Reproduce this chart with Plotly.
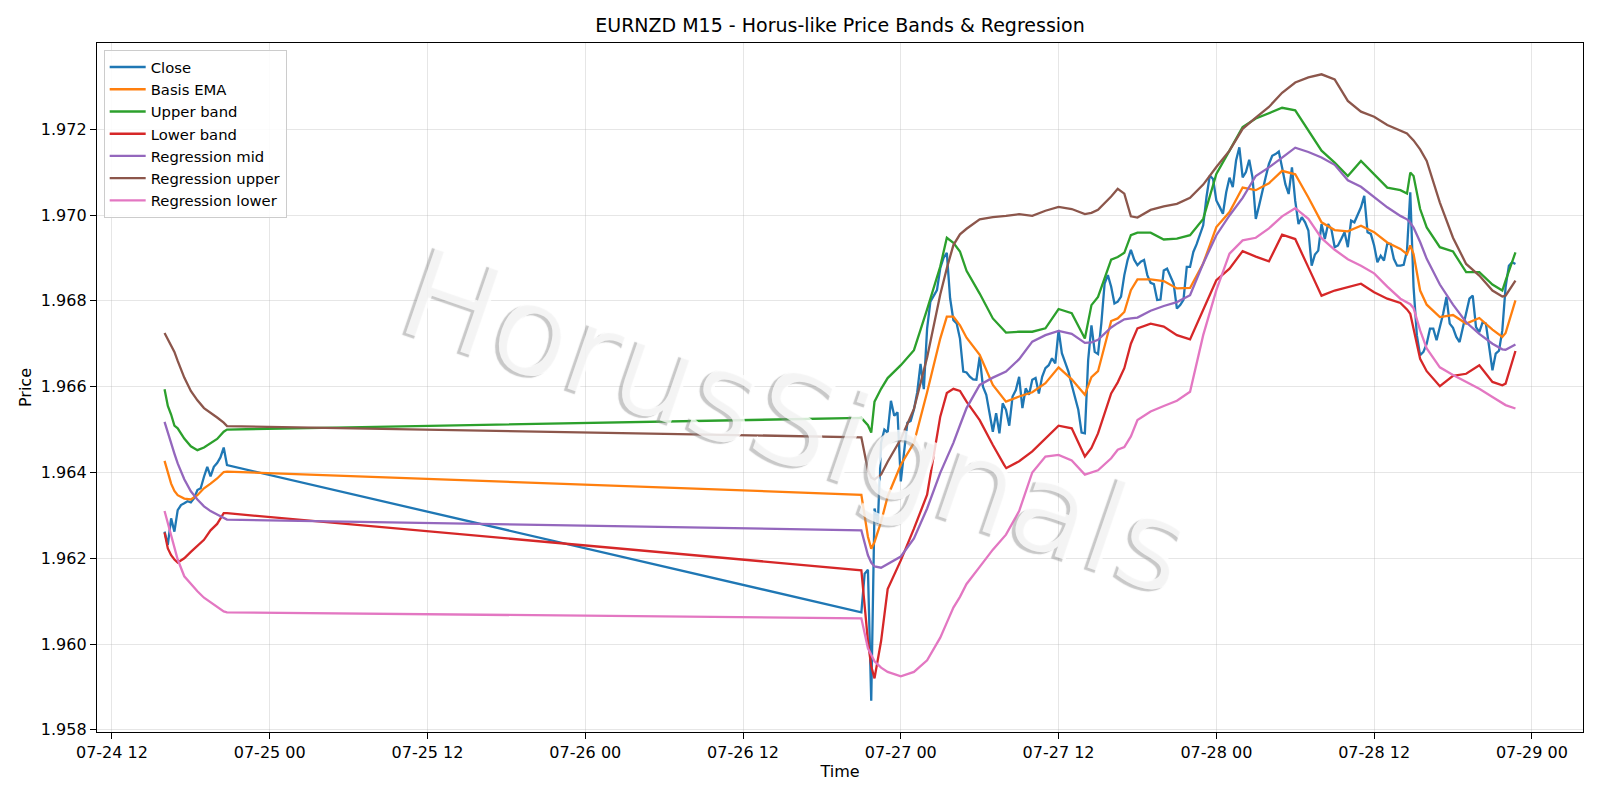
import pandas as pd
import plotly.graph_objects as go

# ---------------- data ----------------
FRI_START = "2025-07-24 16:00"   # first M15 bar before the data gap
SUN_START = "2025-07-26 21:00"   # first M15 bar after the data gap

# Close, 15-minute bars
close_fri = [1.96262, 1.96231, 1.96293, 1.96262, 1.96312, 1.96324, 1.96328, 1.96333,
             1.96330, 1.96340, 1.96359, 1.96363, 1.96390, 1.96413, 1.96391, 1.96413,
             1.96422, 1.96435, 1.96458, 1.96417]
close_sun = [
    1.96074, 1.96164, 1.96173, 1.95868,  1.96316, 1.96281, 1.96469, 1.96500,
    1.96493, 1.96567, 1.96532, 1.96540,  1.96379, 1.96446, 1.96516, 1.96520,
    1.96547, 1.96587, 1.96653, 1.96594,  1.96735, 1.96798, 1.96810, 1.96825,
    1.96876, 1.96900, 1.96912, 1.96806,  1.96755, 1.96747, 1.96712, 1.96635,
    1.96633, 1.96623, 1.96617, 1.96616,  1.96670, 1.96600, 1.96581, 1.96538,
    1.96495, 1.96538, 1.96491, 1.96561,  1.96546, 1.96509, 1.96577, 1.96592,
    1.96623, 1.96550, 1.96596, 1.96581,  1.96616, 1.96620, 1.96584, 1.96623,
    1.96643, 1.96650, 1.96666, 1.96654,  1.96732, 1.96678, 1.96654, 1.96635,
    1.96604, 1.96577, 1.96546, 1.96493,  1.96491, 1.96662, 1.96743, 1.96681,
    1.96676, 1.96747, 1.96840, 1.96860,  1.96833, 1.96794, 1.96798, 1.96810,
    1.96860, 1.96895, 1.96919, 1.96896,  1.96883, 1.96891, 1.96895, 1.96860,
    1.96842, 1.96839, 1.96802, 1.96803,  1.96871, 1.96875, 1.96856, 1.96840,
    1.96782, 1.96790, 1.96802, 1.96879,  1.96879, 1.96914, 1.96932, 1.96953,
    1.96976, 1.97042, 1.97092, 1.97084,  1.97034, 1.97019, 1.97003, 1.97053,
    1.97087, 1.97065, 1.97127, 1.97158,  1.97088, 1.97100, 1.97129, 1.97088,
    1.96991, 1.97022, 1.97057, 1.97088,  1.97119, 1.97138, 1.97142, 1.97148,
    1.97111, 1.97072, 1.97049, 1.97111,  1.97033, 1.96979, 1.96995, 1.96983,
    1.96964, 1.96882, 1.96908, 1.96917,  1.96979, 1.96944, 1.96979, 1.96967,
    1.96925, 1.96929, 1.96944, 1.96960,  1.96925, 1.96987, 1.96983, 1.97002,
    1.97018, 1.97045, 1.96960, 1.96956,  1.96929, 1.96890, 1.96905, 1.96894,
    1.96933, 1.96933, 1.96898, 1.96882,  1.96882, 1.96884, 1.96917, 1.97053,
    1.96832, 1.96720, 1.96673, 1.96681,  1.96700, 1.96735, 1.96735, 1.96708,
    1.96739, 1.96770, 1.96809, 1.96747,  1.96737, 1.96716, 1.96704, 1.96739,
    1.96778, 1.96805, 1.96812, 1.96739,  1.96727, 1.96750, 1.96747, 1.96692,
    1.96638, 1.96677, 1.96684, 1.96731,  1.96832, 1.96882, 1.96890, 1.96886,
]

# Smooth series, sampled at these hour offsets
band_fri_hours = [0, 0.25, 0.5, 0.75, 1, 1.5, 2, 2.5, 3, 3.5, 4, 4.5, 4.75]
band_sun_hours = [0, 0.5, 0.75, 1, 1.5, 2, 3, 4, 5, 6, 6.5, 7, 7.5, 8, 9, 10, 11, 12,
                  13, 14, 15, 16, 17, 17.5, 18, 19, 19.5, 20, 20.5, 21, 22, 23, 24, 25,
                  26, 27, 28, 29, 30, 31, 32, 33, 34, 35, 36, 37, 38, 39, 40, 41, 41.5,
                  41.75, 42, 42.5, 43, 44, 45, 46, 47, 48, 48.75, 49, 49.75]

ema_fri = [1.96427, 1.96398, 1.96374, 1.96357, 1.96347, 1.96339, 1.96337, 1.96347,
           1.96363, 1.96374, 1.96386, 1.96401, 1.96402]
ema_sun = [1.96348, 1.96250, 1.96222, 1.96238, 1.96285, 1.96344, 1.96418, 1.96469, 1.96587, 1.96712,
           1.96763, 1.96763, 1.96743, 1.96714, 1.96674, 1.96604, 1.96565, 1.96577, 1.96587, 1.96608,
           1.96645, 1.96617, 1.96581, 1.96622, 1.96636, 1.96753, 1.96759, 1.96774, 1.96825, 1.96850,
           1.96850, 1.96846, 1.96829, 1.96830, 1.96887, 1.96972, 1.97007, 1.97064, 1.97058, 1.97074,
           1.97103, 1.97095, 1.97041, 1.96983, 1.96965, 1.96962, 1.96975, 1.96960, 1.96936, 1.96921,
           1.96909, 1.96929, 1.96909, 1.96824, 1.96791, 1.96762, 1.96767, 1.96747, 1.96760, 1.96733,
           1.96716, 1.96725, 1.96801]

upper_fri = [1.96594, 1.96555, 1.96535, 1.96509, 1.96503, 1.96479, 1.96461, 1.96452,
             1.96458, 1.96468, 1.96478, 1.96495, 1.96500]
upper_sun = [1.96527, 1.96510, 1.96493, 1.96565, 1.96595, 1.96620, 1.96650, 1.96685, 1.96780, 1.96880,
             1.96947, 1.96935, 1.96915, 1.96870, 1.96817, 1.96759, 1.96726, 1.96728, 1.96728, 1.96736,
             1.96781, 1.96771, 1.96712, 1.96790, 1.96809, 1.96896, 1.96902, 1.96912, 1.96953, 1.96959,
             1.96959, 1.96943, 1.96945, 1.96953, 1.96991, 1.97096, 1.97150, 1.97205, 1.97225, 1.97237,
             1.97250, 1.97244, 1.97196, 1.97150, 1.97122, 1.97091, 1.97126, 1.97095, 1.97064, 1.97058,
             1.97050, 1.97099, 1.97091, 1.97014, 1.96971, 1.96925, 1.96915, 1.96867, 1.96867, 1.96838,
             1.96824, 1.96847, 1.96913]

lower_fri = [1.96260, 1.96223, 1.96207, 1.96197, 1.96190, 1.96200, 1.96215, 1.96228,
             1.96243, 1.96265, 1.96280, 1.96305, 1.96305]
lower_sun = [1.96172, 1.96007, 1.95948, 1.95920, 1.96007, 1.96128, 1.96195, 1.96269, 1.96348, 1.96530,
             1.96585, 1.96595, 1.96590, 1.96565, 1.96522, 1.96464, 1.96410, 1.96426, 1.96449, 1.96478,
             1.96509, 1.96503, 1.96437, 1.96457, 1.96491, 1.96584, 1.96610, 1.96643, 1.96700, 1.96736,
             1.96747, 1.96740, 1.96720, 1.96710, 1.96778, 1.96848, 1.96875, 1.96916, 1.96903, 1.96892,
             1.96954, 1.96944, 1.96878, 1.96812, 1.96824, 1.96832, 1.96840, 1.96820, 1.96805, 1.96795,
             1.96780, 1.96770, 1.96735, 1.96665, 1.96636, 1.96601, 1.96625, 1.96630, 1.96650, 1.96611,
             1.96603, 1.96607, 1.96683]

reg_mid_fri = [1.96518, 1.96492, 1.96467, 1.96444, 1.96421, 1.96384, 1.96356, 1.96337,
               1.96321, 1.96310, 1.96302, 1.96294, 1.96290]
reg_mid_sun = [1.96265, 1.96207, 1.96190, 1.96181, 1.96178, 1.96187, 1.96204, 1.96246, 1.96316, 1.96399,
               1.96435, 1.96469, 1.96510, 1.96550, 1.96604, 1.96621, 1.96635, 1.96664, 1.96705, 1.96720,
               1.96730, 1.96723, 1.96702, 1.96703, 1.96709, 1.96738, 1.96748, 1.96757, 1.96759, 1.96761,
               1.96777, 1.96788, 1.96797, 1.96813, 1.96887, 1.96953, 1.96999, 1.97040, 1.97091, 1.97111,
               1.97134, 1.97157, 1.97147, 1.97134, 1.97117, 1.97081, 1.97066, 1.97043, 1.97018, 1.96998,
               1.96990, 1.96982, 1.96971, 1.96937, 1.96898, 1.96838, 1.96791, 1.96750, 1.96723, 1.96700,
               1.96687, 1.96686, 1.96698]

reg_up_fri = [1.96725, 1.96711, 1.96696, 1.96681, 1.96660, 1.96621, 1.96590, 1.96568,
              1.96550, 1.96540, 1.96528, 1.96516, 1.96508]
reg_up_sun = [1.96482, 1.96405, 1.96388, 1.96384, 1.96395, 1.96425, 1.96478, 1.96548, 1.96668, 1.96815,
              1.96876, 1.96930, 1.96955, 1.96968, 1.96990, 1.96995, 1.96998, 1.97002, 1.96998, 1.97010,
              1.97019, 1.97014, 1.97002, 1.97005, 1.97012, 1.97043, 1.97061, 1.97050, 1.96997, 1.96994,
              1.97012, 1.97020, 1.97026, 1.97040, 1.97071, 1.97112, 1.97150, 1.97201, 1.97227, 1.97252,
              1.97285, 1.97309, 1.97321, 1.97328, 1.97316, 1.97266, 1.97241, 1.97229, 1.97210, 1.97196,
              1.97190, 1.97182, 1.97174, 1.97153, 1.97126, 1.97029, 1.96947, 1.96886, 1.96859, 1.96824,
              1.96810, 1.96812, 1.96847]

reg_lo_fri = [1.96310, 1.96281, 1.96252, 1.96223, 1.96197, 1.96158, 1.96140, 1.96123,
              1.96108, 1.96098, 1.96087, 1.96076, 1.96074]
reg_lo_sun = [1.96060, 1.95990, 1.95975, 1.95960, 1.95945, 1.95935, 1.95925, 1.95935, 1.95962, 1.96015,
              1.96050, 1.96085, 1.96110, 1.96140, 1.96180, 1.96220, 1.96255, 1.96310, 1.96400, 1.96437,
              1.96441, 1.96428, 1.96395, 1.96400, 1.96405, 1.96433, 1.96453, 1.96459, 1.96484, 1.96522,
              1.96542, 1.96555, 1.96567, 1.96588, 1.96720, 1.96825, 1.96910, 1.96941, 1.96947, 1.96969,
              1.96997, 1.97016, 1.96991, 1.96946, 1.96919, 1.96897, 1.96882, 1.96864, 1.96833, 1.96805,
              1.96795, 1.96792, 1.96783, 1.96731, 1.96689, 1.96645, 1.96627, 1.96611, 1.96595, 1.96576,
              1.96562, 1.96557, 1.96549]

y_tick_values = [1.958, 1.960, 1.962, 1.964, 1.966, 1.968, 1.970, 1.972]
x_tick_labels_fmt = "%m-%d %H"
TITLE = "EURNZD M15 - Horus-like Price Bands & Regression"
WATERMARK = "HorusSignals"

# ---------------- build time axes ----------------
def times(start, hours):
    return list(pd.Timestamp(start) + pd.to_timedelta(hours, unit="h"))

close_t = (list(pd.date_range(FRI_START, periods=len(close_fri), freq="15min")) +
           list(pd.date_range(SUN_START, periods=len(close_sun), freq="15min")))
band_t = times(FRI_START, band_fri_hours) + times(SUN_START, band_sun_hours)

series = [
    ("Close", close_t, close_fri + close_sun, "#1f77b4"),
    ("Basis EMA", band_t, ema_fri + ema_sun, "#ff7f0e"),
    ("Upper band", band_t, upper_fri + upper_sun, "#2ca02c"),
    ("Lower band", band_t, lower_fri + lower_sun, "#d62728"),
    ("Regression mid", band_t, reg_mid_fri + reg_mid_sun, "#9467bd"),
    ("Regression upper", band_t, reg_up_fri + reg_up_sun, "#8c564b"),
    ("Regression lower", band_t, reg_lo_fri + reg_lo_sun, "#e377c2"),
]

fig = go.Figure()
for name, xs, ys, col in series:
    fig.add_trace(go.Scatter(x=xs, y=ys, mode="lines", name=name,
                             line=dict(color=col, width=2.3)))

FONT = "DejaVu Sans"
axis_common = dict(
    showline=True, linecolor="black", linewidth=1.3, mirror=True,
    ticks="outside", ticklen=6, tickwidth=1.3, tickcolor="black",
    showgrid=True, gridcolor="rgba(176,176,176,0.32)", gridwidth=1.2,
    zeroline=False, tickfont=dict(family=FONT, size=16, color="black"),
)

# matplotlib-style 5% margins around the data span
t_first = pd.Timestamp(FRI_START)
t_last = pd.Timestamp(SUN_START) + pd.Timedelta(minutes=15 * (len(close_sun) - 1))
pad = (t_last - t_first) * 0.05
all_vals = close_fri + close_sun + reg_up_fri + reg_up_sun
ymin, ymax = min(all_vals), max(all_vals)
ypad = (ymax - ymin) * 0.05

fig.update_layout(
    width=1600, height=800,
    paper_bgcolor="white", plot_bgcolor="white",
    margin=dict(l=97, r=17, t=43, b=68),
    title=dict(text=TITLE, x=0.5, xref="paper", xanchor="center",
               y=1 - 25 / 800, yref="container", yanchor="middle",
               font=dict(family=FONT, size=19, color="black")),
    xaxis=dict(type="date", range=[t_first - pad, t_last + pad],
               tick0="2025-07-24 00:00", dtick=12 * 3600 * 1000,
               tickformat=x_tick_labels_fmt,
               title=dict(text="Time", standoff=4,
                          font=dict(family=FONT, size=16, color="black")),
               **axis_common),
    yaxis=dict(range=[ymin - ypad, ymax + ypad], tickmode="array",
               tickvals=y_tick_values, ticktext=[f"{v:.3f}" for v in y_tick_values],
               title=dict(text="Price", standoff=5,
                          font=dict(family=FONT, size=16, color="black")),
               **axis_common),
    legend=dict(x=0.0045, y=0.99, xanchor="left", yanchor="top",
                bgcolor="rgba(255,255,255,0.85)", bordercolor="#cccccc", borderwidth=1,
                font=dict(family=FONT, size=14.8, color="black"),
                itemwidth=36),
    showlegend=True,
)

fig.add_annotation(
    text=WATERMARK, xref="paper", yref="paper", x=0.471, y=0.45,
    showarrow=False, textangle=19,
    font=dict(family=FONT, size=126, color="rgba(255,255,255,0.8)",
              shadow="-3px 3px 1px rgba(140,140,140,0.6)"),
)

fig.write_html("out.html")
